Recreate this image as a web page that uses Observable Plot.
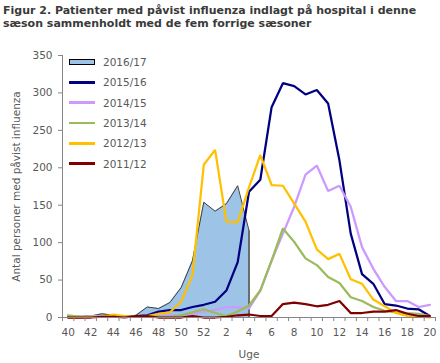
<!DOCTYPE html>
<html>
<head>
<meta charset="utf-8">
<script src="https://cdn.jsdelivr.net/npm/d3@7"></script>
<script src="https://cdn.jsdelivr.net/npm/@observablehq/plot@0.6"></script>
<style>
  html, body { margin: 0; padding: 0; background: #fff; }
  body { width: 440px; height: 363px; position: relative; overflow: hidden; }
  #title { height: 40px; box-sizing: border-box; padding: 4px 0 0 3px; font-family: "DejaVu Sans", sans-serif; font-weight: bold; font-size: 11px; line-height: 13px; color: #3a3a3a; white-space: nowrap; }
  #legend { position: absolute; left: 69px; top: 52px; font-family: "DejaVu Sans", sans-serif; font-size: 10.5px; color: #595959; }
  .li { height: 20.3px; display: flex; align-items: center; }
  .sw { width: 26px; margin-right: 8px; }
</style>
</head>
<body>
<div id="title">Figur 2. Patienter med påvist influenza indlagt på hospital i denne<br>sæson sammenholdt med de fem forrige sæsoner</div>
<div id="chart"></div>
<div id="legend"></div>
<script>
const weeks = [40,41,42,43,44,45,46,47,48,49,50,51,52,1,2,3,4,5,6,7,8,9,10,11,12,13,14,15,16,17,18,19,20];
const seasons = ["2016/17","2015/16","2014/15","2013/14","2012/13","2011/12"];
const colors = ["#9DC3E6","#000080","#CC99FF","#9BBB59","#FFC000","#800000"];
const s1617 = [1,1,2,5,3,1,3,14,12,20,40,76,154,142,152,176,116];
const s1516 = [1,1,1,1,1,1,2,3,8,10,10,14,17,21,36,74,168,184,281,313,309,298,304,286,210,112,58,45,18,16,12,11,2];
const s1415 = [0,0,2,2,1,1,1,1,2,3,3,5,8,10,14,14,12,36,76,112,148,191,203,169,176,148,94,65,41,22,22,14,17];
const s1314 = [3,1,1,1,1,1,1,1,1,1,3,7,11,6,2,8,16,36,76,119,101,79,70,54,46,27,22,14,9,7,6,5,2];
const s1213 = [0,0,1,1,4,2,1,2,5,7,21,57,204,224,128,127,174,217,177,176,152,128,91,78,85,51,45,24,15,6,2,1,0];
const s1112 = [0,0,0,1,1,0,2,2,0,0,0,2,0,0,1,3,4,2,2,18,20,18,15,17,22,6,6,8,8,10,5,2,2];
const yDomain = [0, 350];
const yTicks = [0,50,100,150,200,250,300,350];

const lineSeries = [s1516, s1415, s1314, s1213, s1112];
const lineData = [];
lineSeries.forEach((arr, k) => arr.forEach((v, i) => lineData.push({i, v, s: seasons[k+1]})));
const areaData = s1617.map((v, i) => ({i, v}));
const lastArea = areaData[areaData.length - 1];

const boundaries = weeks.map((_, i) => i - 0.5).concat([weeks.length - 0.5]);
const labelIdx = weeks.map((_, i) => i).filter(i => i % 2 === 0);

const chart = Plot.plot({
  width: 440,
  height: 323,
  marginLeft: 62,
  marginRight: 5,
  marginTop: 15,
  marginBottom: 46,
  style: { fontFamily: "DejaVu Sans, sans-serif", fontSize: "10.5px", color: "#595959", background: "#fff" },
  x: { domain: [-0.5, weeks.length - 0.5], axis: null },
  y: { domain: yDomain, axis: null },
  color: { domain: seasons.slice(1), range: colors.slice(1) },
  marks: [
    Plot.areaY(areaData, { x: "i", y: "v", fill: colors[0] }),
    Plot.lineY(areaData, { x: "i", y: "v", stroke: "#404040", strokeWidth: 1 }),
    Plot.ruleX([lastArea], { x: "i", y1: 0, y2: "v", stroke: "#6b6b6b", strokeWidth: 2 }),
    Plot.lineY(lineData, { x: "i", y: "v", z: "s", stroke: "s", strokeWidth: 2.25, strokeLinejoin: "miter" }),
    Plot.ruleY([yDomain[0]], { stroke: "#868686" }),
    Plot.ruleX([-0.5], { y1: yDomain[0], y2: yDomain[1], stroke: "#868686" }),
    Plot.axisY(yTicks, { anchor: "left", tickSize: 4, tickPadding: 6, stroke: "#868686", fill: "#595959",
      label: "Antal personer med påvist influenza", labelAnchor: "center", labelOffset: 50, labelArrow: "none" }),
    Plot.axisX(boundaries, { anchor: "bottom", tickSize: 4, tickFormat: () => "", stroke: "#868686", label: null }),
    Plot.axisX(labelIdx, { anchor: "bottom", tickSize: 0, tickPadding: 11, tickFormat: i => weeks[i], fill: "#595959",
      label: "Uge", labelAnchor: "center", labelOffset: 40, labelArrow: "none" })
  ]
});
document.getElementById("chart").appendChild(chart);

const legend = document.getElementById("legend");
seasons.forEach((s, k) => {
  const row = document.createElement("div");
  row.className = "li";
  const sw = document.createElement("div");
  sw.className = "sw";
  if (k === 0) { sw.style.height = "4px"; sw.style.background = colors[0]; sw.style.border = "1px solid #000"; sw.style.width = "24px"; }
  else { sw.style.height = "2.5px"; sw.style.background = colors[k]; }
  const t = document.createElement("span");
  t.textContent = s;
  row.appendChild(sw); row.appendChild(t);
  legend.appendChild(row);
});
</script>
</body>
</html>
